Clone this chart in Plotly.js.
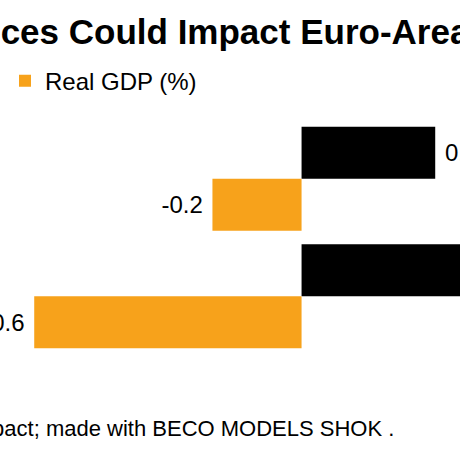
<!DOCTYPE html>
<html>
<head>
<meta charset="utf-8">
<script src="https://cdn.plot.ly/plotly-3.0.1.min.js"></script>
<style>
html,body{margin:0;padding:0;overflow:hidden;width:460px;height:460px;background:#fff;}
#chart{position:absolute;left:-300px;top:0;width:1000px;height:460px;}
</style>
</head>
<body>
<div id="chart"></div>
<script>
var categories = ["Scenario A", "Scenario B"];
var inflationValues = [0.3, 0.4];
var gdpValues = [-0.2, -0.6];
var seriesNames = ["Inflation (%)", "Real GDP (%)"];
var titleText = "Higher Oil Prices Could Impact Euro-Area Economy";
var footerText = "Source: Bloomberg Economics. Note: Shows peak impact; made with BECO MODELS SHOK .";

var NB = "\u00a0";
function fmt(v){ return v.toFixed(1); }

var font = "Liberation Sans, Arial, Helvetica, sans-serif";

var traces = [
  {
    type: "bar", orientation: "h", name: seriesNames[0],
    y: categories, x: inflationValues,
    text: inflationValues.map(function(v){ return NB + fmt(v); }), textposition: "outside",
    textfont: {family: font, size: 24, color: "#000"},
    constraintext: "none", cliponaxis: false,
    marker: {color: "#000000"}
  },
  {
    type: "bar", orientation: "h", name: seriesNames[1],
    y: categories, x: gdpValues,
    text: gdpValues.map(function(v){ return fmt(v) + NB; }), textposition: "outside",
    textfont: {family: font, size: 24, color: "#000"},
    constraintext: "none", cliponaxis: false,
    marker: {color: "#F7A21B"}
  }
];

var layout = {
  width: 1000, height: 460,
  margin: {l: 156, r: 42, t: 120, b: 105, pad: 0},
  paper_bgcolor: "#fff", plot_bgcolor: "#fff",
  font: {family: font, color: "#000"},
  barmode: "group", bargap: 0.115, bargroupgap: 0,
  title: {
    text: "<b>" + titleText + "</b>",
    font: {family: font, size: 35, color: "#000"},
    xref: "container", x: 0.077, xanchor: "left",
    yref: "container", y: 0.93, yanchor: "middle"
  },
  xaxis: {range: [-1.0, 0.8], visible: false, zeroline: false, showgrid: false, fixedrange: true},
  yaxis: {autorange: "reversed", showticklabels: false, showgrid: false, zeroline: false, ticks: "", fixedrange: true},
  showlegend: true,
  legend: {
    orientation: "h", x: -0.03, xanchor: "left", y: 1.165, yanchor: "middle",
    font: {family: font, size: 24, color: "#000"}, traceorder: "normal"
  },
  annotations: [{
    text: footerText, showarrow: false,
    xref: "paper", yref: "paper", x: 0.6733, xanchor: "right",
    y: -0.314, yanchor: "middle",
    font: {family: font, size: 22, color: "#000"}
  }]
};

Plotly.newPlot("chart", traces, layout, {staticPlot: true, displayModeBar: false});
</script>
</body>
</html>
